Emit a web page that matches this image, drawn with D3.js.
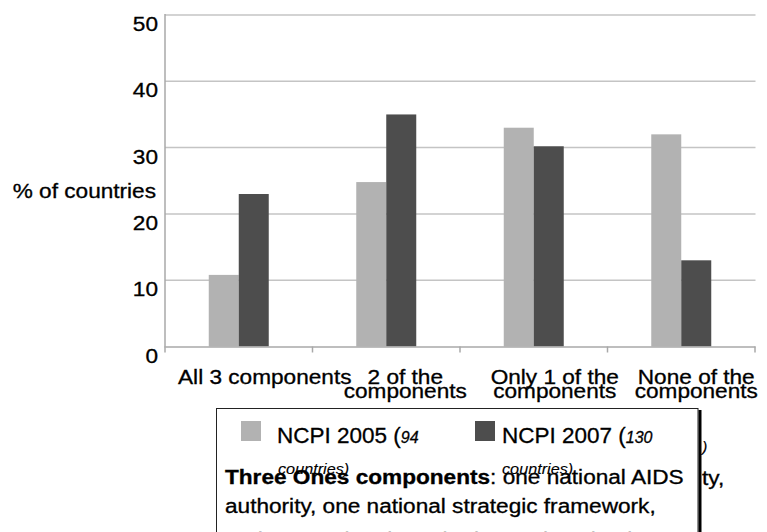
<!DOCTYPE html>
<html>
<head>
<meta charset="utf-8">
<script src="https://cdnjs.cloudflare.com/ajax/libs/d3/7.8.5/d3.min.js"></script>
<style>
  body { margin: 0; background: #fff; }
  svg { display: block; font-family: "Liberation Sans", Arial, sans-serif; }
  text { stroke: #000; stroke-width: 0.3px; }
</style>
</head>
<body>
<svg id="chart" width="767" height="532"></svg>
<script>
// data
const categories = ["All 3 components", "2 of the components", "Only 1 of the components", "None of the components"];
const categoryLines = [["All 3 components"], ["2 of the", "components"], ["Only 1 of the", "components"], ["None of the", "components"]];
const series = ["NCPI 2005", "NCPI 2007"];
const seriesNotes = ["94", "130"];
const values2005 = [10.8, 24.8, 33, 32];
const values2007 = [23, 35, 30.2, 13];
const yTicks = [0, 10, 20, 30, 40, 50];
const noteLines = ["authority, one national strategic framework,", "and one national monitoring and evaluation system"];

const svg = d3.select("#chart");
const colors = d3.scaleOrdinal().domain(series).range(["#b2b2b2", "#4d4d4d"]);
const SX = 1.16; // the text in the picture is a bit wider than normal

const y = d3.scaleLinear().domain([0, 50]).range([346.5, 15]);
const x = d3.scaleBand().domain(categories).range([165, 755]);
const xs = d3.scaleBand().domain(series).range([0, 60]);

// stretched text helper
function label(parent, px, py, str, size, anchor) {
    return parent.append("g")
        .attr("transform", `translate(${px},${py}) scale(${SX},1)`)
        .append("text")
        .attr("text-anchor", anchor || "start")
        .style("font-size", size + "px")
        .attr("fill", "#000")
        .text(str);
}

// gridlines
svg.append("g").selectAll("line")
    .data(yTicks.filter(d => d > 0))
    .enter().append("line")
    .attr("x1", 165).attr("x2", 755.5)
    .attr("y1", d => y(d)).attr("y2", d => y(d))
    .attr("stroke", "#c4c4c4").attr("stroke-width", 1.5);

// y axis line
svg.append("line")
    .attr("x1", 165).attr("x2", 165)
    .attr("y1", y(50) - 1).attr("y2", y(0) + 1)
    .attr("stroke", "#a8a8a8").attr("stroke-width", 1.5);

// y tick labels
const yl = svg.append("g");
yTicks.forEach(t => label(yl, 158, y(t) + 16, t, 19.5, "end"));
label(svg, 156, 198, "% of countries", 19.5, "end");

// bars
const groups = svg.append("g").selectAll("g")
    .data(categories)
    .enter().append("g")
    .attr("transform", d => `translate(${x(d) + x.bandwidth() / 2 - 30},0)`);

groups.selectAll("rect")
    .data((d, i) => [{ s: series[0], v: values2005[i] }, { s: series[1], v: values2007[i] }])
    .enter().append("rect")
    .attr("x", d => xs(d.s))
    .attr("width", xs.bandwidth())
    .attr("y", d => y(d.v))
    .attr("height", d => y(0) - y(d.v))
    .attr("fill", d => colors(d.s));

// x axis
const xAxis = svg.append("g")
    .attr("transform", `translate(0,${y(0)})`)
    .call(d3.axisBottom(x).tickSize(0).tickFormat(""));
xAxis.select(".domain").attr("stroke", "#a8a8a8").attr("stroke-width", 1.5);
const bounds = categories.map(c => x(c)).concat([x.range()[1]]);
xAxis.selectAll(".sep")
    .data(bounds)
    .enter().append("line")
    .attr("x1", d => d).attr("x2", d => d)
    .attr("y1", 0).attr("y2", 6)
    .attr("stroke", "#a8a8a8").attr("stroke-width", 1.5);

// category labels
const labelShift = [26, 19, 21, 15];
categories.forEach((c, i) => {
    const cx = x(c) + x.bandwidth() / 2 + labelShift[i];
    categoryLines[i].forEach((ln, j) => label(svg, cx, 384 + j * 13.5, ln, 19.5, "middle"));
});

// legend / note box
const box = svg.append("g");
box.append("rect")
    .attr("x", 216.5).attr("y", 408.5)
    .attr("width", 481.5).attr("height", 200)
    .attr("fill", "#fff").attr("stroke", "#222").attr("stroke-width", 1);
box.append("line")
    .attr("x1", 700).attr("x2", 700).attr("y1", 410).attr("y2", 532)
    .attr("stroke", "#000").attr("stroke-width", 3);

const legendX = [241, 475];
series.forEach((s, i) => {
    box.append("rect")
        .attr("x", legendX[i]).attr("y", 421)
        .attr("width", 20).attr("height", 20)
        .attr("fill", colors(s));
    const t = box.append("text")
        .attr("x", legendX[i] + (i === 0 ? 36 : 27)).attr("y", 443)
        .style("font-size", "22.5px").attr("fill", "#000");
    t.append("tspan").text(s + " (");
    t.append("tspan").style("font-style", "italic").style("font-size", "16px").text(seriesNotes[i]);
    label(box, legendX[i] + (i === 0 ? 37 : 27), 474, "countries)", 14, "start")
        .style("font-style", "italic").style("stroke-width", "0.1px");
});

// note text
const n1 = box.append("g")
    .attr("transform", `translate(225,484) scale(${SX},1)`)
    .append("text").style("font-size", "19.5px").attr("fill", "#000");
n1.append("tspan").style("font-weight", "bold").text("Three Ones components");
n1.append("tspan").text(": one national AIDS");
noteLines.forEach((ln, i) => label(box, 225, 513 + i * 34, ln, 19.5, "start"));
label(box, 702, 485, "ty,", 19.5, "start");
label(box, 702, 452, ")", 14, "start").style("font-style", "italic").style("stroke-width", "0.1px");
</script>
</body>
</html>
